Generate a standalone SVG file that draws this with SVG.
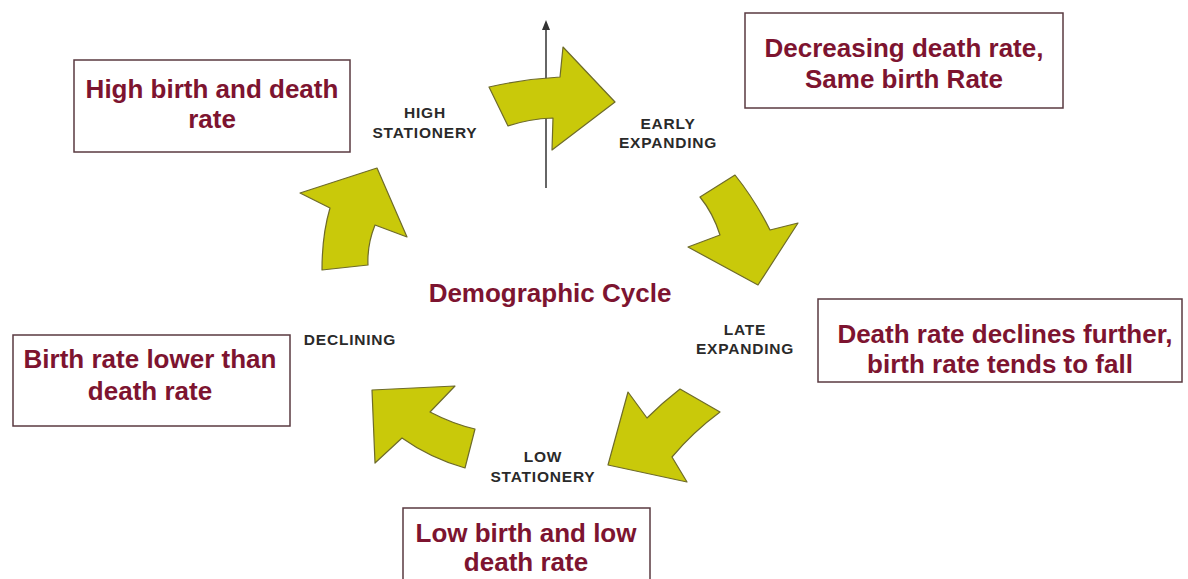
<svg xmlns="http://www.w3.org/2000/svg" width="1188" height="579" viewBox="0 0 1188 579">
<style>
.box{fill:#ffffff;stroke:#5a3a40;stroke-width:1.5}
.bt{font-family:"Liberation Sans",Arial,sans-serif;font-weight:bold;font-size:26px;fill:#7d1430;text-anchor:middle}
.lbl{font-family:"Liberation Sans",Arial,sans-serif;font-weight:bold;font-size:15.5px;fill:#2a2a2a;text-anchor:middle;letter-spacing:0.8px}
.arr{fill:#c9c90a;stroke:#6e6b2a;stroke-width:1.2;stroke-linejoin:round}
</style>
<defs>
<marker id="ah" markerWidth="10" markerHeight="8" refX="2" refY="4" orient="auto" markerUnits="userSpaceOnUse">
<path d="M0,0 L10,4 L0,8 Z" fill="#333"/>
</marker>
</defs>
<rect width="1188" height="579" fill="#ffffff"/>

<g id="connectors">
<line x1="546" y1="188" x2="546" y2="28" stroke="#333" stroke-width="1.5" marker-end="url(#ah)"/>
<path id="arrow-high-to-early" class="arr" d="M489,87 Q524,79 560,77 L563,47 L615,102 L552,150 L553,118 Q528,119 508,126 Z"/>
<path id="arrow-early-to-late" class="arr" d="M700,197 L735,175 Q755,200 770,230 L798,223 L758,285 L688,247 L720,235 Q713,213 700,197 Z"/>
<path id="arrow-late-to-low" class="arr" d="M628,392 L647,418 Q662,403 680,389 L720,412 Q693,432 672,457 L687,482 L608,465 Z"/>
<path id="arrow-low-to-declining" class="arr" d="M372,390 L455,386 L430,412 Q453,424 475,429 L465,468 Q430,458 402,438 L375,463 Z"/>
<path id="arrow-declining-to-high" class="arr" d="M300,193 L377,168 L407,237 L375,225 Q367,245 368,265 L322,270 Q322,235 330,208 Z"/>
</g>

<g id="title">
<text class="bt" x="550" y="302">Demographic Cycle</text>
</g>

<g id="stage-high-stationery">
<text class="lbl" x="425" y="118">HIGH</text>
<text class="lbl" x="425" y="138">STATIONERY</text>
</g>
<g id="stage-early-expanding">
<text class="lbl" x="668" y="129">EARLY</text>
<text class="lbl" x="668" y="148">EXPANDING</text>
</g>
<g id="stage-late-expanding">
<text class="lbl" x="745" y="335">LATE</text>
<text class="lbl" x="745" y="354">EXPANDING</text>
</g>
<g id="stage-low-stationery">
<text class="lbl" x="543" y="462">LOW</text>
<text class="lbl" x="543" y="482">STATIONERY</text>
</g>
<g id="stage-declining">
<text class="lbl" x="350" y="345">DECLINING</text>
</g>

<g id="box-high">
<rect class="box" x="74" y="60" width="276" height="92"/>
<text class="bt" x="212" y="98">High birth and death</text>
<text class="bt" x="212" y="128">rate</text>
</g>
<g id="box-early">
<rect class="box" x="745" y="13" width="318" height="95"/>
<text class="bt" x="904" y="57">Decreasing death rate,</text>
<text class="bt" x="904" y="88">Same birth Rate</text>
</g>
<g id="box-late">
<rect class="box" x="818" y="299" width="364" height="83"/>
<text class="bt" x="1005" y="343">Death rate declines further,</text>
<text class="bt" x="1000" y="373">birth rate tends to fall</text>
</g>
<g id="box-declining">
<rect class="box" x="13" y="335" width="277" height="91"/>
<text class="bt" x="150" y="368">Birth rate lower than</text>
<text class="bt" x="150" y="400">death rate</text>
</g>
<g id="box-low">
<rect class="box" x="403" y="508" width="247" height="80"/>
<text class="bt" x="526" y="542">Low birth and low</text>
<text class="bt" x="526" y="571">death rate</text>
</g>
</svg>
